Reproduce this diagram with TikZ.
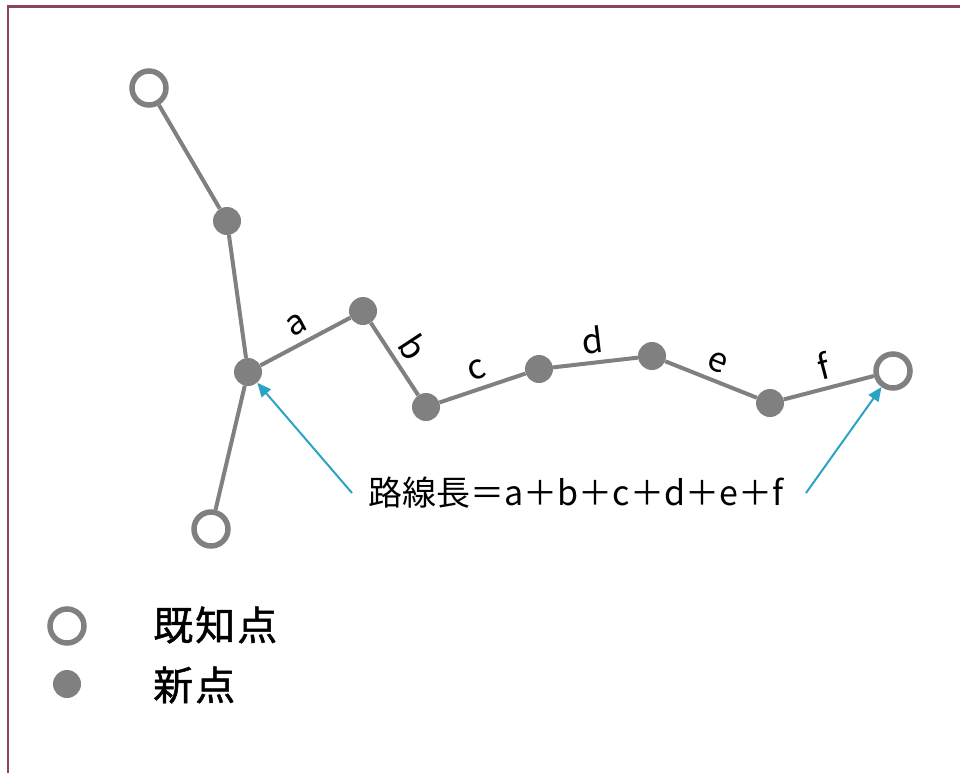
\documentclass[tikz,border=0pt]{standalone}
\usepackage{fontspec}
\newfontfamily\jp{Noto Sans CJK JP}
\newfontfamily\jpb[FakeBold=1.2]{Noto Sans CJK JP}
\usetikzlibrary{arrows.meta}
\definecolor{edgegray}{HTML}{808080}
\definecolor{framec}{HTML}{8C4556}
\definecolor{arrowc}{HTML}{2BA3C4}
\begin{document}
\begin{tikzpicture}[x=1pt,y=-1pt,
  known/.style={circle, draw=edgegray, line width=5.5pt, fill=white, minimum size=34pt, inner sep=0pt},
  newpt/.style={circle, fill=edgegray, minimum size=28pt, inner sep=0pt},
  edgeline/.style={edgegray, line width=4pt},
  lbl/.style={font=\jp\fontsize{34}{40}\selectfont, text=black, sloped, above, inner sep=7pt, midway},
  pointer/.style={arrowc, line width=2pt, -{Triangle[length=14pt,width=12pt]}},
  legendtext/.style={font=\jpb\fontsize{40}{44}\selectfont, anchor=west, inner sep=0pt}
]
\useasboundingbox (0,0) rectangle (960,773);
\draw[framec, line width=2.5pt] (8,773) -- (8,6.5) -- (960,6.5);

% nodes
\node[known] (K1) at (149,88) {};
\node[newpt] (N1) at (227,221) {};
\node[newpt] (N2) at (248,372) {};
\node[known] (K3) at (211,529) {};
\node[newpt] (N3) at (363,311) {};
\node[newpt] (N4) at (426,407) {};
\node[newpt] (N5) at (539,369) {};
\node[newpt] (N6) at (652,356) {};
\node[newpt] (N7) at (770,403) {};
\node[known] (K2) at (893,371) {};

% edges
\draw[edgeline] (K1) -- (N1);
\draw[edgeline] (N1) -- (N2);
\draw[edgeline] (N2) -- (K3);
\draw[edgeline] (N2) -- node[lbl] (la) {a} (N3);
\draw[edgeline] (N3) -- node[lbl] (lb) {b} (N4);
\draw[edgeline] (N4) -- node[lbl] (lc) {c} (N5);
\draw[edgeline] (N5) -- node[lbl] (ld) {d} (N6);
\draw[edgeline] (N6) -- node[lbl] (le) {e} (N7);
\draw[edgeline] (N7) -- node[lbl] (lf) {f} (K2);

% formula
\node[font=\jp\fontsize{34}{40}\selectfont, inner sep=0pt] (formula) at (576,493) {路線長＝a＋b＋c＋d＋e＋f};
\coordinate (s1) at (352,493);
\coordinate (s2) at (806,493);
\draw[pointer] (s1) -- (N2);
\draw[pointer] (s2) -- (K2);

% legend
\node[known] (LK) at (67,626) {};
\node[newpt] (LN) at (67,684) {};
\node[legendtext] (LKt) at (153,625) {既\kern2pt 知\kern2pt 点};
\node[legendtext] (LNt) at (153,685) {新\kern2pt 点};
\end{tikzpicture}
\end{document}
